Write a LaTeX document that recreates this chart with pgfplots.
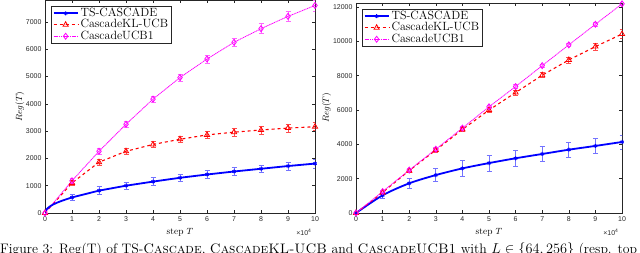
\documentclass[border=0pt]{standalone}
\usepackage{fontspec}
\setsansfont{Liberation Sans}
\usepackage{pgfplots}
\pgfplotsset{compat=1.18}
\definecolor{axgray}{gray}{0.15}
\definecolor{mag}{rgb}{1,0,1}
\newcommand\lgf[1]{\fontsize{12}{12}\selectfont #1}
\pgfplotsset{
  mystyle/.style={
    scale only axis,
    xmin=0, xmax=10, ymin=0,
    xtick={0,...,10},
    tick align=inside,
    major tick length=3bp,
    axis line style={axgray, line width=0.5bp},
    every tick/.style={axgray, line width=0.5bp},
    tick label style={font=\sffamily\fontsize{7}{8}\selectfont, text=axgray},
    /pgf/number format/assume math mode=true,
    /pgf/number format/1000 sep={},
    scaled ticks=false,
    xlabel={step $T$},
    ylabel={$Reg(T)$},
    label style={font=\fontsize{9.5}{10}\selectfont},
    xlabel style={at={(axis description cs:0.5,0)}, anchor=center, yshift=-19bp},
    legend cell align=left,
    legend style={at={(axis description cs:0,1)}, anchor=north west, xshift=6bp, yshift=-6bp,
      draw=axgray, line width=0.5bp, inner xsep=1.5bp, inner ysep=1bp, row sep=-0.5bp,
      nodes={inner xsep=2bp, inner ysep=0.5bp, text height=8.5bp, text depth=2.5bp, font=\fontsize{12}{12}\selectfont}},
    legend image code/.code={\draw[mark repeat=2, mark phase=2] plot coordinates {(0bp,0bp)(12bp,0bp)(24bp,0bp)};},
    error bars/y dir=both, error bars/y explicit,
    after end axis/.code={\node[anchor=east, font=\sffamily\fontsize{7}{8}\selectfont, text=axgray] at (rel axis cs:1,0) [yshift=-19bp] {×10\textsuperscript{4}};},
  },
  tsline/.style={draw=blue, line width=1.8bp, mark=asterisk, mark size=2bp,
    mark options={line width=1bp},
    error bars/error bar style={draw=blue!55!white, line width=0.7bp},
    error bars/error mark options={draw=blue!55!white, line width=0.7bp, mark size=2.5bp, rotate=90}},
  klline/.style={draw=red, line width=1.1bp, dashed, mark=triangle, mark size=3bp,
    mark options={solid, fill=none, line width=0.8bp},
    error bars/error bar style={draw=red!70!white, solid, line width=0.7bp},
    error bars/error mark options={draw=red!70!white, solid, line width=0.7bp, mark size=2.5bp, rotate=90}},
  ucbline/.style={draw=mag, line width=0.8bp, dash pattern=on 1.2bp off 0.6bp, mark=diamond, mark size=3bp,
    mark options={solid, fill=none, line width=0.8bp},
    error bars/error bar style={draw=mag!60!white, solid, line width=0.7bp},
    error bars/error mark options={draw=mag!60!white, solid, line width=0.7bp, mark size=2.5bp, rotate=90}},
}
\begin{document}
\begin{tikzpicture}[x=1bp,y=1bp]
\clip (0,0) rectangle (640,252);
% ---------------- left axis ----------------
\begin{axis}[mystyle, at={(45bp,39bp)}, anchor=south west,
  width=270bp, height=213bp, ymax=7800,
  ytick={0,1000,...,7000},
  ylabel style={at={(axis description cs:-0.093,0.5)}, anchor=center}]
\addplot[tsline] table[y error=e] {
x y e
1 570 120
2 820 140
3 1000 140
4 1150 140
5 1290 140
6 1410 140
7 1520 140
8 1620 140
9 1720 140
10 1810 170
};
\addlegendentry{\lgf{TS-CASCADE}}
\addplot[klline] table[y error=e] {
x y e
0 0 0
1 1100 100
2 1860 100
3 2260 100
4 2510 100
5 2700 110
6 2860 130
7 2960 140
8 3040 150
9 3110 150
10 3160 150
};
\addlegendentry{\lgf{CascadeKL-UCB}}
\addplot[ucbline] table[y error=e] {
x y e
0 0 0
1 1180 100
2 2260 100
3 3250 100
4 4170 110
5 4960 130
6 5640 150
7 6250 150
8 6750 180
9 7200 200
10 7600 200
};
\addlegendentry{\lgf{CascadeUCB1}}
\addplot[draw=blue, line width=1.8bp, smooth, forget plot] coordinates {
(0,0) (0.05,125) (0.15,220) (0.3,310) (0.5,400) (0.75,490) (1,570)};
\end{axis}
% ---------------- right axis ----------------
\begin{axis}[mystyle, at={(356bp,39bp)}, anchor=south west,
  width=266bp, height=210bp, ymax=12240,
  ytick={0,2000,...,12000},
  ylabel style={at={(axis description cs:-0.11,0.5)}, anchor=center}]
\addplot[tsline, smooth] table[y error=e] {
x y e
0 0 0
1 1030 200
2 1730 290
3 2210 380
4 2600 440
5 2910 455
6 3190 450
7 3440 430
8 3690 420
9 3910 420
10 4140 410
};
\addlegendentry{\lgf{TS-CASCADE}}
\addplot[klline] table[y error=e] {
x y e
0 0 0
1 1200 100
2 2470 100
3 3670 120
4 4870 130
5 6000 150
6 7020 150
7 8030 150
8 8920 170
9 9700 200
10 10430 260
};
\addlegendentry{\lgf{CascadeKL-UCB}}
\addplot[ucbline] table[y error=e] {
x y e
0 0 0
1 1250 80
2 2500 80
3 3720 80
4 4950 80
5 6190 100
6 7370 100
7 8590 100
8 9800 100
9 11000 100
10 12190 100
};
\addlegendentry{\lgf{CascadeUCB1}}
\end{axis}
% ---------------- caption (cut off) ----------------
\begin{scope}[overlay]
\node[anchor=base west, inner sep=0pt, font=\fontsize{13.8}{16}\selectfont] at (0,-1) {Figure 3: Reg(T) of TS-\textsc{Cascade}, \textsc{CascadeKL-UCB} and \textsc{CascadeUCB1} with $L \in \{64,256\}$ (resp. top row and bottom row)};
\end{scope}
\end{tikzpicture}
\end{document}
